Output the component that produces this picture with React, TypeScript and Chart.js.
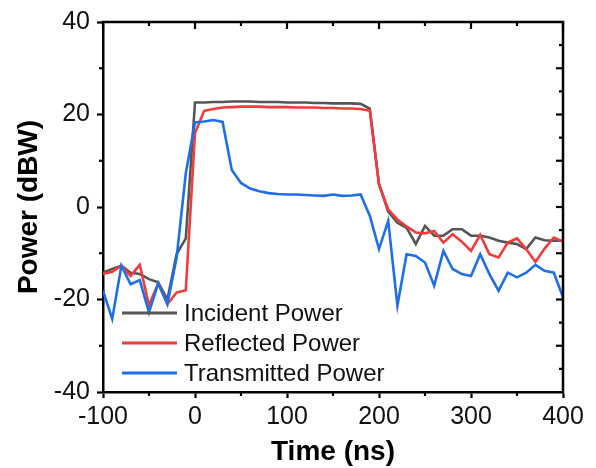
import React, { useEffect, useRef } from "react";
import { Chart, registerables } from "chart.js";

Chart.register(...registerables);

// ---- data ----
const timeNs = [
  -100, -90, -80, -70, -60, -50, -40, -30, -20, -10,
  0, 10, 20, 30, 40, 50, 60, 70, 80, 90,
  100, 110, 120, 130, 140, 150, 160, 170, 180, 190,
  200, 210, 220, 230, 240, 250, 260, 270, 280, 290,
  300, 310, 320, 330, 340, 350, 360, 370, 380, 390, 400,
];

const incidentPower = [
  -14.2, -13.4, -12.7, -14.2, -14.5, -15.6, -16.3, -20.0, -10.2, -6.8,
  22.6, 22.6, 22.7, 22.7, 22.8, 22.8, 22.8, 22.7, 22.7, 22.7,
  22.6, 22.6, 22.6, 22.5, 22.5, 22.4, 22.4, 22.4, 22.3, 21.3,
  5.0, -1.0, -3.4, -4.5, -8.0, -4.1, -6.2, -6.2, -4.8, -4.8,
  -6.2, -6.2, -6.6, -7.3, -7.7, -8.0, -9.1, -6.6, -7.2, -7.3, -7.3,
];

const reflectedPower = [
  -14.5, -14.0, -12.7, -14.9, -12.5, -21.3, -16.5, -21.0, -18.5, -18.0,
  16.0, 20.8, 21.2, 21.5, 21.6, 21.7, 21.7, 21.7, 21.6, 21.6,
  21.6, 21.5, 21.5, 21.5, 21.4, 21.4, 21.3, 21.3, 21.2, 20.8,
  4.8, -0.5, -2.7, -4.2, -5.5, -5.7, -5.2, -7.7, -5.9, -7.5,
  -9.5, -6.0, -10.2, -10.9, -7.7, -6.8, -9.1, -11.9, -9.0, -6.6, -7.5,
];

const transmittedPower = [
  -18.1, -24.2, -12.7, -16.7, -15.8, -22.8, -16.5, -21.0, -11.0, 7.3,
  18.3, 18.5, 18.8, 18.4, 8.0, 5.2, 4.0, 3.4, 3.0, 2.8,
  2.7, 2.7, 2.6, 2.5, 2.4, 2.7, 2.4, 2.5, 2.7, -1.9,
  -9.1, -3.0, -21.3, -10.2, -10.6, -12.0, -17.0, -9.5, -13.4, -14.5,
  -14.9, -10.2, -14.5, -18.1, -14.2, -15.2, -14.2, -12.5, -13.8, -14.2, -19.5,
];

const seriesLabels = ["Incident Power", "Reflected Power", "Transmitted Power"];
const seriesColors = ["#555555", "#F23B3B", "#1F70E6"];

const xTickValues = [-100, 0, 100, 200, 300, 400];
const xMinorTickValues = [-50, 50, 150, 250, 350];
const yTickValues = [-40, -20, 0, 20, 40];
const yMinorTickValues = [-30, -10, 10, 30];
const yRightMajorValues = [-30, -20, -10, 0, 10, 20, 30];
const yRightMinorValues = [-35, -25, -15, -5, 5, 15, 25, 35];

const xTitle = "Time (ns)";
const yTitle = "Power (dBW)";

const FONT = "'Liberation Sans', Arial, Helvetica, sans-serif";

const framePlugin = {
  id: "frameAndMinor",
  afterDraw(chart: any) {
    const { ctx, chartArea: a, scales } = chart;
    const xs = scales.x;
    const ys = scales.y;
    ctx.save();
    ctx.strokeStyle = "#000";
    ctx.lineCap = "butt";
    ctx.lineWidth = 2.5;
    ctx.beginPath();
    ctx.moveTo(a.left - 1.25, a.top);
    ctx.lineTo(a.right, a.top);
    ctx.lineTo(a.right, a.bottom + 1.25);
    ctx.stroke();
    const seg = (x0: number, y0: number, x1: number, y1: number) => {
      ctx.beginPath();
      ctx.moveTo(x0, y0);
      ctx.lineTo(x1, y1);
      ctx.stroke();
    };
    ctx.lineWidth = 2.2;
    xTickValues.forEach((v) => {
      const px = xs.getPixelForValue(v);
      seg(px, a.top, px, a.top + 7);
    });
    xMinorTickValues.forEach((v) => {
      const px = xs.getPixelForValue(v);
      seg(px, a.top, px, a.top + 4);
      seg(px, a.bottom, px, a.bottom + 4);
    });
    yMinorTickValues.forEach((v) => {
      const py = ys.getPixelForValue(v);
      seg(a.left, py, a.left - 4, py);
    });
    yRightMajorValues.forEach((v) => {
      const py = ys.getPixelForValue(v);
      seg(a.right, py, a.right - 7, py);
    });
    yRightMinorValues.forEach((v) => {
      const py = ys.getPixelForValue(v);
      seg(a.right, py, a.right - 4, py);
    });
    ctx.restore();
  },
};

const legendPlugin = {
  id: "insideLegend",
  afterDraw(chart: any) {
    const { ctx, chartArea: a } = chart;
    const ds = chart.data.datasets;
    ctx.save();
    ctx.font = `24px ${FONT}`;
    ctx.textBaseline = "middle";
    ctx.textAlign = "left";
    const rowGap = 30;
    const n = ds.length;
    ds.forEach((d: any, i: number) => {
      const cy = a.bottom - 19 - (n - 1 - i) * rowGap;
      const x0 = a.left + 19;
      const x1 = a.left + 74;
      ctx.strokeStyle = d.borderColor;
      ctx.lineWidth = 3;
      ctx.beginPath();
      ctx.moveTo(x0, cy);
      ctx.lineTo(x1, cy);
      ctx.stroke();
      ctx.fillStyle = "#111";
      ctx.fillText(d.label, x1 + 7, cy + 1);
    });
    ctx.restore();
  },
};

export default function App() {
  const canvasRef = useRef<HTMLCanvasElement | null>(null);

  useEffect(() => {
    if (!canvasRef.current) return;
    Chart.defaults.font.family = FONT;
    const series = [incidentPower, reflectedPower, transmittedPower];
    const chart = new Chart(canvasRef.current, {
      type: "line",
      data: {
        datasets: series.map((vals, i) => ({
          label: seriesLabels[i],
          data: timeNs.map((t, j) => ({ x: t, y: vals[j] })),
          borderColor: seriesColors[i],
          backgroundColor: seriesColors[i],
          borderWidth: 2.6,
          pointRadius: 0,
          tension: 0,
          fill: false,
          order: 3 - i,
        })),
      },
      options: {
        responsive: false,
        animation: false,
        events: [],
        layout: { padding: { top: 21, right: 33, left: 0, bottom: 0 } },
        plugins: {
          legend: { display: false },
          tooltip: { enabled: false },
        },
        scales: {
          x: {
            type: "linear",
            min: -100,
            max: 400,
            afterBuildTicks: (s: any) => {
              s.ticks = xTickValues.map((v) => ({ value: v }));
            },
            afterFit: (s: any) => {
              s.height = 76;
            },
            ticks: {
              color: "#111",
              font: { size: 25 },
              padding: 4,
              maxRotation: 0,
            },
            grid: {
              display: true,
              drawOnChartArea: false,
              drawTicks: true,
              tickLength: 6,
              tickWidth: 2.2,
              tickColor: "#000",
            },
            border: { display: true, color: "#000", width: 2.5 },
            title: {
              display: true,
              text: xTitle,
              color: "#000",
              font: { size: 28, weight: "bold", lineHeight: 1 },
              padding: { top: 0, bottom: 2 },
            },
          },
          y: {
            type: "linear",
            min: -40,
            max: 40,
            afterBuildTicks: (s: any) => {
              s.ticks = yTickValues.map((v) => ({ value: v }));
            },
            afterFit: (s: any) => {
              s.width = 103;
            },
            ticks: {
              color: "#111",
              font: { size: 25 },
              padding: 7,
            },
            grid: {
              display: true,
              drawOnChartArea: false,
              drawTicks: true,
              tickLength: 6,
              tickWidth: 2.2,
              tickColor: "#000",
            },
            border: { display: true, color: "#000", width: 2.5 },
            title: {
              display: true,
              text: yTitle,
              color: "#000",
              font: { size: 28, weight: "bold", lineHeight: 1 },
              padding: { top: 15, bottom: 0 },
            },
          },
        },
      },
      plugins: [framePlugin, legendPlugin],
    } as any);
    return () => chart.destroy();
  }, []);

  return (
    <div style={{ position: "absolute", left: 0, top: 0, width: 596, height: 468, background: "#fff" }}>
      <canvas ref={canvasRef} width={596} height={468} style={{ display: "block" }} />
    </div>
  );
}
